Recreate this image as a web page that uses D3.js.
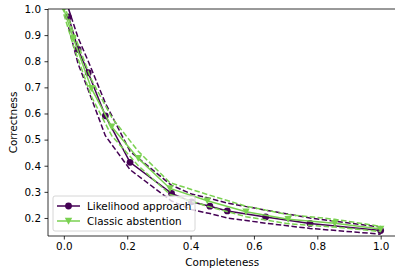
<!DOCTYPE html>
<html><head><meta charset="utf-8">
<script src="https://cdn.jsdelivr.net/npm/d3@7"></script>
<style>body{margin:0;background:#fff}svg{display:block}text{font-family:"DejaVu Sans",sans-serif;}</style>
</head><body><svg id="c" width="395" height="272"></svg>
<script>
const xTicks = [0.0, 0.2, 0.4, 0.6, 0.8, 1.0];
const yTicks = [0.2, 0.3, 0.4, 0.5, 0.6, 0.7, 0.8, 0.9, 1.0];

const likX  = [0.015, 0.045, 0.077, 0.131, 0.209, 0.340, 0.403, 0.461, 0.516, 0.637, 0.777, 1.0];
const likY  = [0.97, 0.845, 0.756, 0.591, 0.413, 0.294, 0.262, 0.245, 0.227, 0.204, 0.179, 0.152];
const likUp = [1.0, 0.89, 0.80, 0.64, 0.455, 0.325, 0.292, 0.275, 0.257, 0.230, 0.200, 0.165];
const likLo = [0.93, 0.79, 0.69, 0.515, 0.385, 0.265, 0.232, 0.217, 0.200, 0.180, 0.160, 0.138];

const absX  = [0.0, 0.030, 0.087, 0.151, 0.235, 0.335, 0.453, 0.575, 0.708, 0.855, 1.0];
const absY  = [1.0, 0.888, 0.696, 0.549, 0.428, 0.313, 0.266, 0.224, 0.195, 0.180, 0.158];
const absUp = [1.02, 0.91, 0.73, 0.585, 0.455, 0.335, 0.29, 0.245, 0.213, 0.195, 0.168];
const absLo = [0.98, 0.86, 0.665, 0.515, 0.40, 0.29, 0.245, 0.205, 0.178, 0.165, 0.148];

const seriesNames = ["Likelihood approach", "Classic abstention"];
const colors = ["#440154", "#7ad151"];

const svg = d3.select("#c");
const L = 48, R = 396.5, T = 9, B = 236;
const FS = "10.4px";
const x = d3.scaleLinear().domain([-0.05, 1.05]).range([L, R]);
const y = d3.scaleLinear().domain([0.131, 1.0]).range([B, T]);

svg.append("defs").append("clipPath").attr("id","clip")
  .append("rect").attr("x",L).attr("y",T).attr("width",R-L).attr("height",B-T);

const g = svg.append("g").attr("clip-path","url(#clip)");
const line = d3.line().x(d=>x(d[0])).y(d=>y(d[1]));

function drawSeries(xs, ys, up, lo, color, marker){
  const zipped = (arr)=>xs.map((v,i)=>[v,arr[i]]);
  g.append("path").attr("d", line(zipped(up))).attr("fill","none").attr("stroke",color)
    .attr("stroke-width",1.5).attr("stroke-dasharray","5.5,2.4");
  g.append("path").attr("d", line(zipped(lo))).attr("fill","none").attr("stroke",color)
    .attr("stroke-width",1.5).attr("stroke-dasharray","5.5,2.4");
  g.append("path").attr("d", line(zipped(ys))).attr("fill","none").attr("stroke",color)
    .attr("stroke-width",1.5);
  zipped(ys).forEach(p=>{
    if(marker==="circle"){
      g.append("circle").attr("cx",x(p[0])).attr("cy",y(p[1])).attr("r",3.4).attr("fill",color);
    } else {
      g.append("path").attr("transform",`translate(${x(p[0])},${y(p[1])})`)
        .attr("d","M-3.7,-3.3L3.7,-3.3L0,3.7Z").attr("fill",color);
    }
  });
}
drawSeries(likX, likY, likUp, likLo, colors[0], "circle");
drawSeries(absX, absY, absUp, absLo, colors[1], "tri");

// spines
svg.append("line").attr("x1",L).attr("x2",L).attr("y1",T).attr("y2",B).attr("stroke","#000").attr("stroke-width",0.8);
svg.append("line").attr("x1",L).attr("x2",R).attr("y1",B).attr("y2",B).attr("stroke","#000").attr("stroke-width",0.8);
svg.append("line").attr("x1",L).attr("x2",R).attr("y1",T).attr("y2",T).attr("stroke","#000").attr("stroke-width",0.8);
svg.append("line").attr("x1",R).attr("x2",R).attr("y1",T).attr("y2",B).attr("stroke","#000").attr("stroke-width",0.8);

// axes
const xa = svg.append("g").attr("transform",`translate(0,${B})`)
  .call(d3.axisBottom(x).tickValues(xTicks).tickFormat(d3.format(".1f")).tickSize(3.5).tickPadding(3.5));
const ya = svg.append("g").attr("transform",`translate(${L},0)`)
  .call(d3.axisLeft(y).tickValues(yTicks).tickFormat(d3.format(".1f")).tickSize(3.5).tickPadding(3.5));
[xa,ya].forEach(a=>{
  a.select(".domain").remove();
  a.selectAll(".tick line").attr("stroke","#000").attr("stroke-width",0.8);
  a.selectAll(".tick text").attr("fill","#000").style("font-size",FS).style("font-family","DejaVu Sans");
});

svg.append("text").attr("x",(L+R)/2).attr("y",266).attr("text-anchor","middle")
  .style("font-size",FS).text("Completeness");
svg.append("text").attr("transform",`translate(17,${(T+B)/2}) rotate(-90)`).attr("text-anchor","middle")
  .style("font-size",FS).text("Correctness");

// legend
const lg = svg.append("g");
lg.append("rect").attr("x",53).attr("y",196).attr("width",142).attr("height",35).attr("rx",2)
  .attr("fill","#fff").attr("fill-opacity",0.8).attr("stroke","#ccc").attr("stroke-width",0.8);
seriesNames.forEach((name,i)=>{
  const yy = 206 + i*15;
  lg.append("line").attr("x1",57).attr("x2",80).attr("y1",yy).attr("y2",yy).attr("stroke",colors[i]).attr("stroke-width",1.5);
  if(i===0) lg.append("circle").attr("cx",68.5).attr("cy",yy).attr("r",3.4).attr("fill",colors[i]);
  else lg.append("path").attr("transform",`translate(68.5,${yy})`).attr("d","M-3.7,-3.3L3.7,-3.3L0,3.7Z").attr("fill",colors[i]);
  lg.append("text").attr("x",87).attr("y",yy).attr("dy","0.35em").style("font-size",FS).text(name);
});
</script></body></html>
